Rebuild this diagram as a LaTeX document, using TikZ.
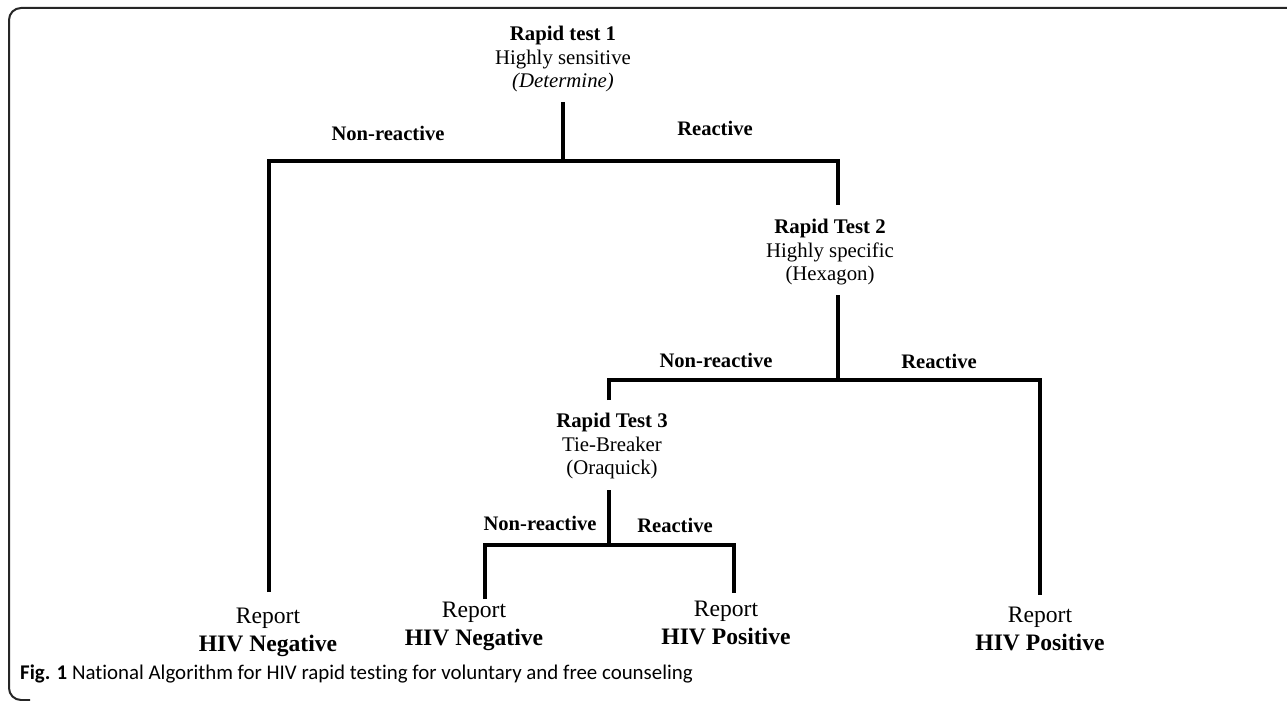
\documentclass[tikz,border=0pt]{standalone}
\usepackage{fontspec}
\setmainfont{Liberation Serif}
\newfontfamily\capfont[Ligatures=NoCommon]{Carlito}
\begin{document}
\begin{tikzpicture}[x=1pt,y=-1pt,
  conn/.style={line width=3.3pt, black},
  testnode/.style={anchor=north, inner sep=0pt, align=center, font=\fontsize{20.8}{23.6}\selectfont},
  lab/.style={anchor=base, inner sep=0pt, font=\fontsize{20.6}{24}\selectfont\bfseries},
  report/.style={anchor=north, inner sep=0pt, align=center, font=\fontsize{23.6}{27.6}\selectfont},
  frame/.style={line width=2pt, black!85}]
\useasboundingbox (0,0) rectangle (1287,701);
% frame
\draw[frame] (1287,8) -- (21,8) arc[start angle=270,end angle=180,radius=12] -- (9,688) arc[start angle=180,end angle=90,radius=12] -- (30,700);
% test nodes
\node[testnode] (t1) at (563,26) {\textbf{Rapid test 1}\\Highly sensitive\\\textit{(Determine)}};
\node[testnode] (t2) at (830,219) {\textbf{Rapid Test 2}\\Highly specific\\(Hexagon)};
\node[testnode] (t3) at (612,413) {\textbf{Rapid Test 3}\\Tie-Breaker\\(Oraquick)};
% reports
\node[report] (r1) at (268,608) {Report\\\textbf{HIV Negative}};
\node[report] (r2) at (474,602) {Report\\\textbf{HIV Negative}};
\node[report] (r3) at (726,601) {Report\\\textbf{HIV Positive}};
\node[report] (r4) at (1040,607) {Report\\\textbf{HIV Positive}};
% branch labels
\node[lab] (nr1) at (388,140) {Non-reactive};
\node[lab] (re1) at (715,135) {Reactive};
\node[lab] (nr2) at (716,367) {Non-reactive};
\node[lab] (re2) at (939,368) {Reactive};
\node[lab] (nr3) at (540,530) {Non-reactive};
\node[lab] (re3) at (675,532) {Reactive};
% junction coordinates
\coordinate (a1) at (563,102);
\coordinate (j1) at (563,161);
\coordinate (j1l) at (269,161);
\coordinate (j1r) at (838,161);
\coordinate (e1) at (269,592);
\coordinate (t2in) at (838,205);
\coordinate (a2) at (838,295);
\coordinate (j2) at (838,380);
\coordinate (j2l) at (609,380);
\coordinate (j2r) at (1040,380);
\coordinate (t3in) at (609,400);
\coordinate (e4) at (1040,595);
\coordinate (a3) at (609,490);
\coordinate (j3) at (609,545);
\coordinate (j3l) at (485,545);
\coordinate (j3r) at (734,545);
\coordinate (e2) at (485,599);
\coordinate (e3) at (734,593);
% connectors
\draw[conn] (a1) -- (j1);
\draw[conn] (e1) -- (j1l) -- (j1r) -- (t2in);
\draw[conn] (a2) -- (j2);
\draw[conn] (t3in) -- (j2l) -- (j2r) -- (e4);
\draw[conn] (a3) -- (j3);
\draw[conn] (e2) -- (j3l) -- (j3r) -- (e3);
% caption
\node[anchor=base west, inner sep=0pt, font=\capfont\fontsize{20.9}{24}\selectfont] (cap) at (20,679) {\textbf{Fig. 1} National Algorithm for HIV rapid testing for voluntary and free counseling};
\end{tikzpicture}
\end{document}
